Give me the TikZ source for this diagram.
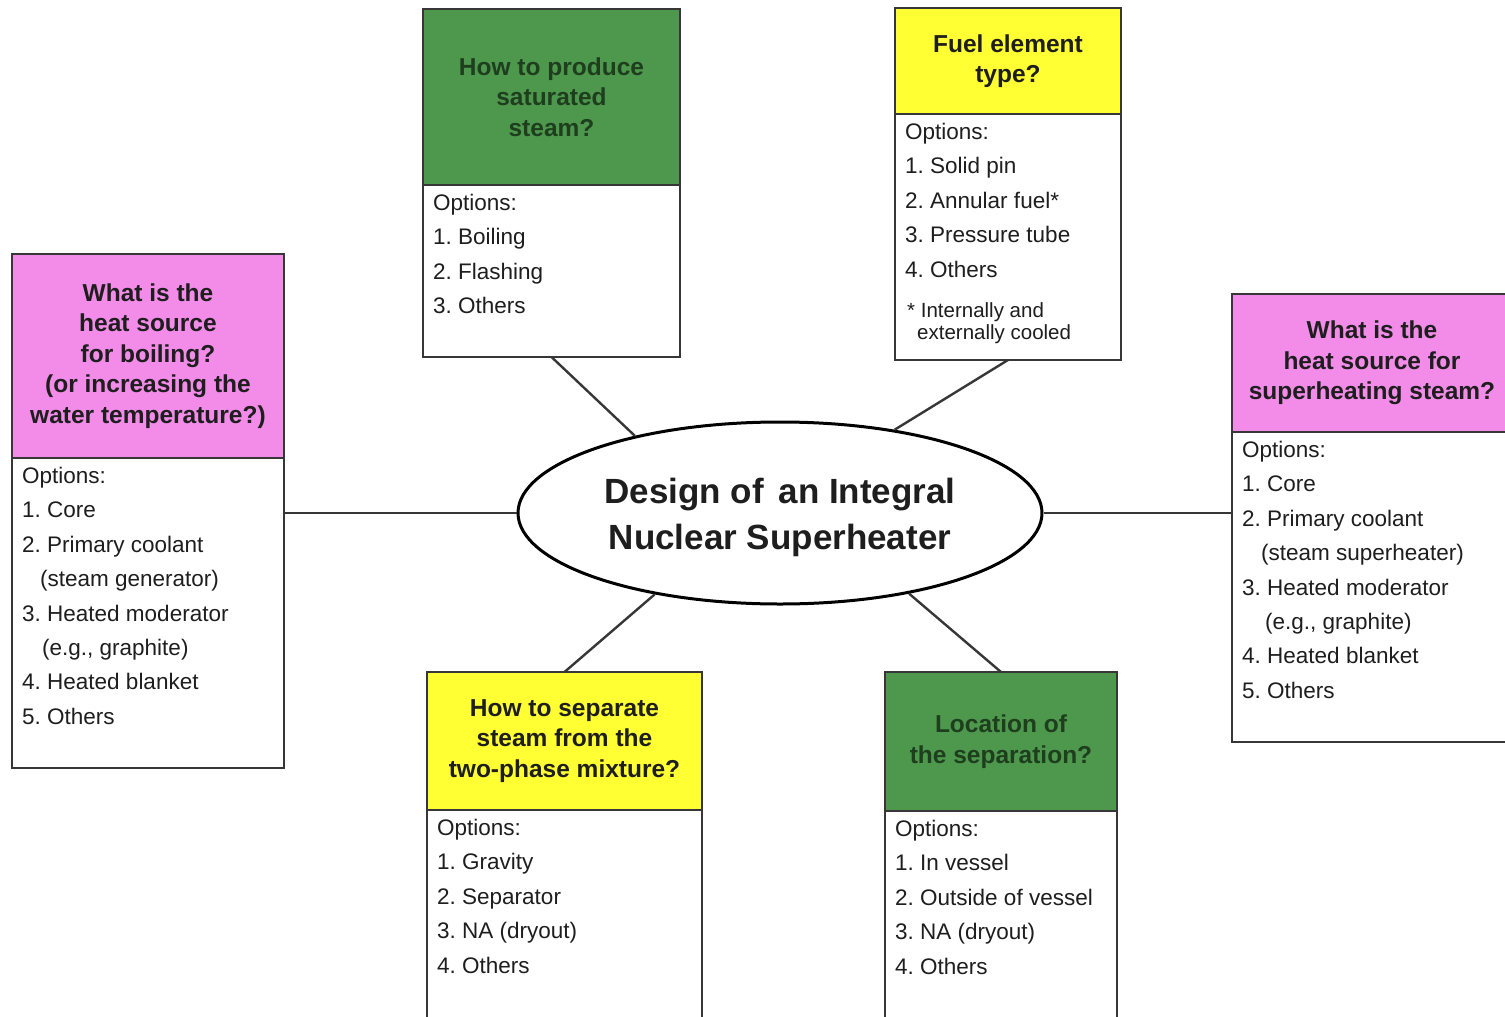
\documentclass[tikz,border=0pt]{standalone}
\usepackage{fontspec}
\setmainfont{Liberation Sans}
\usepackage{tikz}
\usetikzlibrary{positioning, shapes.geometric, calc}
\usepackage{xcolor}
\definecolor{boilpink}{RGB}{242,140,232}
\definecolor{steamgreen}{RGB}{78,152,78}
\definecolor{fuelyellow}{RGB}{255,255,51}
\definecolor{greenink}{RGB}{30,62,30}
\definecolor{inkgray}{RGB}{30,30,30}
\definecolor{framegray}{RGB}{55,55,55}
\frenchspacing

\begin{document}
\begin{tikzpicture}[
    x=1pt, y=-1pt,
    head/.style={rectangle, draw=framegray, line width=1.6pt, outer sep=0pt, inner sep=0pt,
                 align=center, text=inkgray, font=\fontsize{24.5}{30.5}\selectfont\bfseries},
    body/.style={rectangle, draw=framegray, line width=1.6pt, outer sep=0pt, fill=white},
    opts/.style={anchor=north west, align=left, inner xsep=10pt, inner ysep=9pt,
                 text=inkgray, font=\fontsize{22.5}{34.4}\selectfont},
    note/.style={align=left, inner sep=0pt, text=inkgray, font=\fontsize{20.5}{22}\selectfont},
    link/.style={draw=framegray, line width=2.4pt},
]
    \fill[white] (0,0) rectangle (1505,1017);
    \useasboundingbox (0,0) rectangle (1505,1017);

    % centre
    \node[ellipse, draw=black, line width=3pt, minimum width=524pt, minimum height=182pt,
          inner sep=0pt] (core) at (780,513) {};
    \node[align=center, text=inkgray, font=\fontsize{35}{46}\selectfont\bfseries] (title) at (780,517)
        {Design of\hspace{5pt} an Integral\\Nuclear Superheater};

    % heat source for boiling
    \node[head, fill=boilpink, minimum width=272pt, minimum height=204pt] (hA) at (148,356)
        {What is the\\heat source\\for boiling?\\(or increasing the\\water temperature?)};
    \node[body, minimum width=272pt, minimum height=310pt, below=0pt of hA] (bA) {};
    \node[opts] (lA) at (bA.north west) {Options:\\1. Core\\2. Primary coolant\\
        \hspace*{18pt}(steam generator)\\3. Heated moderator\\\hspace*{20pt}(e.g., graphite)\\
        4. Heated blanket\\5. Others};

    % saturated steam
    \node[head, fill=steamgreen, text=greenink, minimum width=257pt, minimum height=176pt] (hB) at (551.5,97)
        {How to produce\\saturated\\steam?};
    \node[body, minimum width=257pt, minimum height=172pt, below=0pt of hB] (bB) {};
    \node[opts] (lB) at (bB.north west) {Options:\\1. Boiling\\2. Flashing\\3. Others};

    % fuel element
    \node[head, fill=fuelyellow, minimum width=226pt, minimum height=106pt] (hC) at (1008,61)
        {Fuel element\\type?};
    \node[body, minimum width=226pt, minimum height=246pt, below=0pt of hC] (bC) {};
    \node[opts] (lC) at (bC.north west) {Options:\\1. Solid pin\\2. Annular fuel*\\
        3. Pressure tube\\4. Others};
    \node[note, below=16pt of lC.south west, anchor=north west, xshift=12pt] (nC)
        {* Internally and\\\hspace*{10pt}externally cooled};

    % heat source for superheating
    \node[head, fill=boilpink, minimum width=280pt, minimum height=138pt] (hD) at (1372,363)
        {What is the\\heat source for\\superheating steam?};
    \node[body, minimum width=280pt, minimum height=310pt, below=0pt of hD] (bD) {};
    \node[opts] (lD) at (bD.north west) {Options:\\1. Core\\2. Primary coolant\\
        \hspace*{19pt}(steam superheater)\\3. Heated moderator\\\hspace*{23pt}(e.g., graphite)\\
        4. Heated blanket\\5. Others};

    % separation method
    \node[head, fill=fuelyellow, minimum width=275pt, minimum height=138pt] (hE) at (564.5,741)
        {How to separate\\steam from the\\two-phase mixture?};
    \node[body, minimum width=275pt, minimum height=220pt, below=0pt of hE] (bE) {};
    \node[opts] (lE) at (bE.north west) {Options:\\1. Gravity\\2. Separator\\3. NA (dryout)\\4. Others};

    % separation location
    \node[head, fill=steamgreen, text=greenink, minimum width=232pt, minimum height=139pt] (hF) at (1001,741.5)
        {Location of\\the separation?};
    \node[body, minimum width=232pt, minimum height=220pt, below=0pt of hF] (bF) {};
    \node[opts] (lF) at (bF.north west) {Options:\\1. In vessel\\2. Outside of vessel\\
        3. NA (dryout)\\4. Others};

    % spokes
    \draw[link] (core.west) -- (core.west -| bA.east);
    \draw[link] (core.east) -- (core.east -| bD.west);
    \draw[link] (bB.south) -- (core.152);
    \draw[link] (bC.south) -- (core.36);
    \draw[link] (hE.north) -- (core.213);
    \draw[link] (hF.north) -- (core.328);
\end{tikzpicture}
\end{document}
